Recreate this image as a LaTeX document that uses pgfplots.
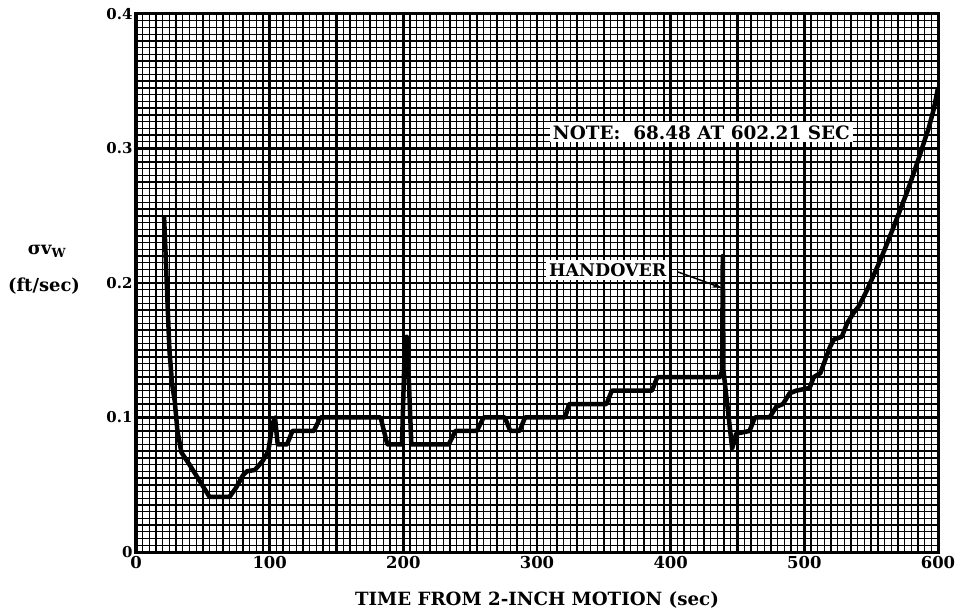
\documentclass[border=0pt]{standalone}
\usepackage{fontspec}
\setmainfont{DejaVu Serif}
\usepackage{pgfplots}
\pgfplotsset{compat=1.18}
\usetikzlibrary{arrows.meta}
\begin{document}
\begin{tikzpicture}
\begin{axis}[
  name=ax,
  scale only axis,
  width=802bp, height=538bp,
  xmin=0, xmax=600, ymin=0, ymax=0.4,
  xtick={0,50,...,600},
  xticklabels={0,,100,,200,,300,,400,,500,,600},
  ytick={0,0.05,0.1,0.15,0.2,0.25,0.3,0.35,0.4},
  yticklabels={0,,0.1,,0.2,,0.3,,0.4},
  minor x tick num=9, minor y tick num=9,
  grid=both,
  major grid style={black, line width=2.4bp},
  minor grid style={black, line width=1.3bp},
  major tick length=0pt, minor tick length=0pt,
  axis line style={line width=3bp},
  xticklabel style={font=\bfseries\fontsize{16.5}{18}\selectfont, yshift=-1bp},
  yticklabel style={font=\bfseries\fontsize{15}{17}\selectfont},
]
\addplot[black, line width=4.5bp, line join=round] coordinates {
(21,0.25) (23,0.20) (25,0.15) (27,0.125) (29,0.112) (31,0.09) (34,0.074)
(40,0.065) (45,0.057) (50,0.049) (55,0.041) (70,0.041) (75,0.048) (80,0.057)
(83,0.06) (89,0.061) (95,0.068) (99,0.075) (102,0.095) (104,0.1) (106,0.08)
(113,0.08) (117,0.09) (133,0.09) (138,0.1) (183,0.1) (188,0.08) (199,0.08)
(201,0.15) (202.5,0.16) (204,0.13) (206,0.08) (234,0.08) (239,0.09) (255,0.09)
(260,0.1) (276,0.1) (280,0.09) (287,0.09) (291,0.1) (321,0.1) (324,0.11)
(352,0.11) (356,0.12) (386,0.12) (390,0.13) (437,0.13) (438.5,0.135)
(439,0.22) (439.5,0.135) (446,0.077) (449,0.088) (459,0.09) (463,0.1)
(474,0.1) (479,0.108) (484,0.11) (489,0.118) (494,0.12) (504,0.122)
(507,0.13) (512,0.133) (519,0.152) (522,0.158) (528,0.16) (532,0.17)
(537,0.178) (541,0.183) (547,0.195) (556,0.215) (563,0.232) (570,0.25)
(577,0.268) (583,0.285) (588,0.3) (593,0.315) (597,0.33) (600,0.345)
};
\node[fill=white, inner sep=3bp, font=\bfseries\fontsize{18.5}{20}\selectfont] at (axis cs:423,0.312) {NOTE:\ \ 68.48 AT 602.21 SEC};
\node[fill=white, inner sep=3bp, font=\bfseries\fontsize{17.5}{19}\selectfont] at (axis cs:353,0.2097) {HANDOVER};
\draw[-{Stealth[length=10bp,width=6bp]}, line width=1.5bp] (axis cs:405.5,0.2082) -- (axis cs:438.3,0.1963);
\end{axis}
\node[font=\bfseries\fontsize{18}{20}\selectfont] at (-89bp,301bp) {σv\textsubscript{W}};
\node[font=\bfseries\fontsize{18}{20}\selectfont] at (-92bp,266bp) {(ft/sec)};
\node[font=\bfseries\fontsize{18.3}{20}\selectfont] at (401bp,-48bp) {TIME FROM 2-INCH MOTION (sec)};
\pgfresetboundingbox
\path (-136bp,-63bp) rectangle (821bp,552bp);
\end{tikzpicture}
\end{document}
